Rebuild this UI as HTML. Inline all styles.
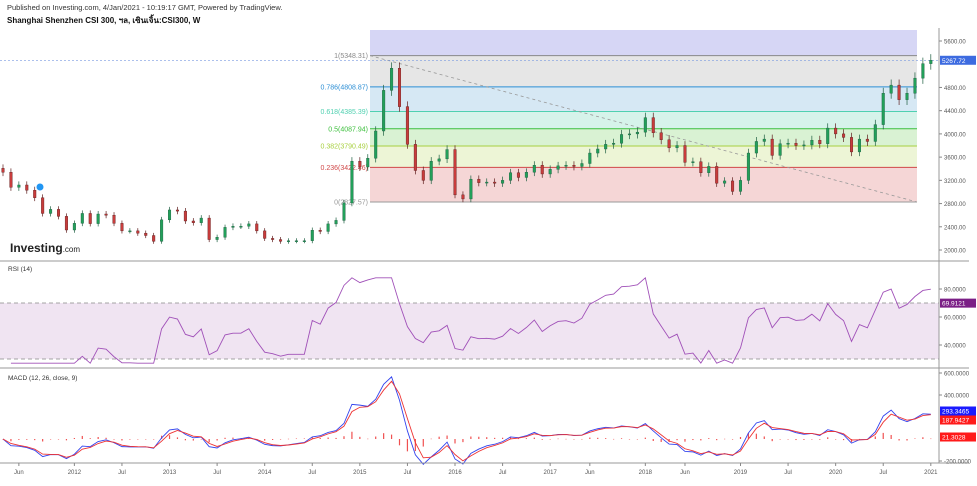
<!DOCTYPE html>
<html><head><meta charset="utf-8">
<style>
body{margin:0;background:#fff;width:977px;height:481px;overflow:hidden;font-family:"Liberation Sans","Noto Sans CJK SC",sans-serif;}
svg text{font-family:"Liberation Sans","Noto Sans CJK SC",sans-serif;}
</style></head><body>
<svg id="c" width="977" height="481" xmlns="http://www.w3.org/2000/svg">
<text x="7" y="10" font-size="7.5" fill="#333">Published on Investing.com, 4/Jan/2021 - 10:19:17 GMT, Powered by TradingView.</text>
<text x="7" y="23" font-size="8" font-weight="bold" fill="#111">Shanghai Shenzhen CSI 300, ฯล, เซินเจิ้น:CSI300, W</text>
<g id="fib"></g>
<g id="price"></g>
<g id="rsi"></g>
<g id="macd"></g>
<g id="axes"></g>
<text x="10" y="252" font-size="12" font-weight="bold" fill="#222">Investing<tspan font-size="8" font-weight="normal">.com</tspan></text>
<text x="8" y="271" font-size="6.5" fill="#333">RSI (14)</text>
<text x="8" y="380" font-size="6.5" fill="#333">MACD (12, 26, close, 9)</text>
</svg>
<script>
const closes=[3340,3080,3120,3030,2900,2630,2700,2580,2345,
2460,2630,2455,2620,2600,2460,2330,2330,2290,2250,2150,2520,
2690,2670,2500,2470,2550,2180,2220,2390,2410,2410,2450,2330,
2200,2180,2150,2160,2160,2160,2340,2320,2450,2510,2810,3530,
3430,3580,4050,4750,5130,4470,3820,3370,3200,3530,3570,3730,
2950,2880,3220,3160,3170,3150,3200,3330,3250,3340,3460,3310,
3390,3450,3460,3440,3490,3670,3740,3820,3840,3990,4000,4030,
4280,4020,3900,3760,3800,3510,3520,3330,3440,3150,3190,3010,
3200,3670,3870,3910,3630,3830,3840,3800,3810,3890,3830,4100,
4000,3940,3690,3910,3870,4160,4700,4840,4590,4700,4960,5210,
5268];
const priceTicks=[5600,4800,4400,4000,3600,3200,2800,2400,2000];
const rsiTicks=[80,60,40];
const macdTicks=[600,400,-200];
const fibRatios=["1","0.786","0.618","0.5","0.382","0.236","0"];
const fibValues=[5348.31,4808.87,4385.39,4087.94,3790.49,3422.46,2827.57];
const timeLabels=["Jun","2012","Jul","2013","Jul","2014","Jul","2015","Jul","2016","Jul","2017","Jun","2018","Jun","2019","Jul","2020","Jul","2021"];
const timeMonths=[2,9,15,21,27,33,39,45,51,57,63,69,74,81,86,93,99,105,111,117];

const NS="http://www.w3.org/2000/svg";
function mk(p,t,a){const e=document.createElementNS(NS,t);for(const k in a)e.setAttribute(k,a[k]);p.appendChild(e);return e;}
const X=i=>3+i*7.93;
const Y=v=>41+(5600-v)*0.05806;
const YR=v=>303+(70-v)*1.4;
const YM=v=>373+(600-v)*0.11;
const AX=939;

const fg=document.getElementById('fib');
const fibCol=["#888","#2d8fd5","#4fd0b0","#3cbf3c","#a8d040","#d04848","#999"];
const fibFill=["#e6e6e6","#d6e8f4","#d6f3ea","#d9f2d3","#edf5d6","#f5d6d6"];
const fx1=370,fx2=917;
let r=mk(fg,'rect',{x:fx1,y:30,width:fx2-fx1,height:Y(fibValues[0])-30,fill:"#d6d6f5"});

for(let i=0;i<6;i++){const b=mk(fg,'rect',{x:fx1,y:Y(fibValues[i]),width:fx2-fx1,height:Y(fibValues[i+1])-Y(fibValues[i]),fill:fibFill[i]});
}
for(let i=0;i<7;i++){
const l=mk(fg,'line',{x1:fx1,x2:fx2,y1:Y(fibValues[i]),y2:Y(fibValues[i]),stroke:fibCol[i],'stroke-width':1});

const t=mk(fg,'text',{x:fx1-2,y:Y(fibValues[i])+2.5,'font-size':7,fill:fibCol[i],'text-anchor':'end'});
t.textContent=fibRatios[i]+"("+fibValues[i].toFixed(2)+")";
}
const tl=mk(fg,'line',{x1:fx1,y1:Y(fibValues[0]),x2:fx2,y2:Y(fibValues[6]),stroke:"#999",'stroke-dasharray':"3,3",'stroke-width':0.8});


const pg=document.getElementById('price');
const last=closes[closes.length-1];
const pl=mk(pg,'line',{x1:0,x2:AX,y1:Y(last),y2:Y(last),stroke:"#7b9be0",'stroke-dasharray':"2,2",'stroke-width':0.6});

for(let i=0;i<closes.length;i++){
const o=i?closes[i-1]:closes[0]*1.02,c=closes[i];
const up=c>=o;const hi=Math.max(o,c)*1.02,lo=Math.min(o,c)*0.98;
const col=up?"#1d5e40":"#5e1d1d";
const w=mk(pg,'line',{x1:X(i),x2:X(i),y1:Y(hi),y2:Y(lo),stroke:col,'stroke-width':0.7});

const b=mk(pg,'rect',{x:X(i)-1.3,y:Y(Math.max(o,c)),width:2.6,height:Math.max(1,Math.abs(Y(o)-Y(c))),fill:up?"#22a05a":"#c83c3c",stroke:col,'stroke-width':0.4});
}
const mark=mk(pg,'circle',{cx:40,cy:187,r:4,fill:"#2196f3",stroke:"#fff",'stroke-width':1});


const rg=document.getElementById('rsi');
const rb=mk(rg,'rect',{x:0,y:YR(70),width:AX,height:YR(30)-YR(70),fill:"#f0e4f2"});

[70,30].forEach(v=>{const l=mk(rg,'line',{x1:0,x2:AX,y1:YR(v),y2:YR(v),stroke:"#888",'stroke-dasharray':"4,3",'stroke-width':0.8});
});
const P=7;let ag=0,al=0,rs=[];
for(let i=1;i<closes.length;i++){const d=closes[i]-closes[i-1];const g=Math.max(d,0),lo=Math.max(-d,0);
if(i<=P){ag+=g/P;al+=lo/P;}else{ag=(ag*(P-1)+g)/P;al=(al*(P-1)+lo)/P;}
rs.push([i,al===0?100:100-100/(1+ag/al)]);}
const rl=mk(rg,'polyline',{points:rs.map(p=>X(p[0])+","+YR(Math.min(88,Math.max(27,p[1])))).join(" "),fill:"none",stroke:"#a050b8",'stroke-width':0.9});


const mg=document.getElementById('macd');
function ema(a,n){const k=2/(n+1);let o=[a[0]];for(let i=1;i<a.length;i++)o.push(a[i]*k+o[i-1]*(1-k));return o;}
const e1=ema(closes,3),e2=ema(closes,6);const m=closes.map((c,i)=>(e1[i]-e2[i])*1.1);const s=ema(m,2);
for(let i=0;i<m.length;i++){const h=m[i]-s[i];
const b=mk(mg,'rect',{x:X(i)-0.6,y:Math.min(YM(0),YM(h)),width:1.2,height:Math.max(0.5,Math.abs(YM(h)-YM(0))),fill:"#f05050"});
}
const clip=v=>Math.max(-230,Math.min(620,v));
const ml=mk(mg,'polyline',{points:m.map((v,i)=>X(i)+","+YM(clip(v))).join(" "),fill:"none",stroke:"#3344ee",'stroke-width':0.9});

const sl=mk(mg,'polyline',{points:s.map((v,i)=>X(i)+","+YM(clip(v))).join(" "),fill:"none",stroke:"#ee3333",'stroke-width':0.9});


const ag2=document.getElementById('axes');
[[AX,28,AX,463],[0,261,AX+30,261],[0,368,AX+30,368],[0,463,AX+30,463]].forEach(a=>{
const l=mk(ag2,'line',{x1:a[0],y1:a[1],x2:a[2],y2:a[3],stroke:"#999",'stroke-width':1});
});
function tick(y,txt,name){const l=mk(ag2,'line',{x1:AX,x2:AX+3,y1:y,y2:y,stroke:"#888"});

const t=mk(ag2,'text',{x:AX+5,y:y+2.5,'font-size':6,fill:"#555"});t.textContent=txt;
}
priceTicks.forEach(v=>tick(Y(v),v.toFixed(2),'price-tick-label'));
rsiTicks.forEach(v=>tick(YR(v),v.toFixed(4),'rsi-tick-label'));
macdTicks.forEach(v=>tick(YM(v),v.toFixed(4),'macd-tick-label'));
timeLabels.forEach((t,i)=>{const x=X(timeMonths[i]);
const l=mk(ag2,'line',{x1:x,x2:x,y1:463,y2:466,stroke:"#888"});

const e=mk(ag2,'text',{x:x,y:474,'font-size':6,fill:"#555",'text-anchor':'middle'});e.textContent=t;
});
function badge(y,txt,col,name){const r=mk(ag2,'rect',{x:AX+1,y:y-4.5,width:36,height:9,fill:col});

const t=mk(ag2,'text',{x:AX+3,y:y+2.5,'font-size':6.5,fill:"#fff"});t.textContent=txt;
}
badge(Y(last),"5267.72","#3d6be0",'last-price-badge');
badge(YR(69.91),"69.9121","#7b1f86",'rsi-value-badge');
badge(411,"293.3465","#1a1aff",'macd-value-badge');
badge(420,"187.9427","#ff1a1a",'signal-value-badge');
badge(437,"21.3028","#ff1a1a",'histogram-value-badge');
</script>
</body></html>
